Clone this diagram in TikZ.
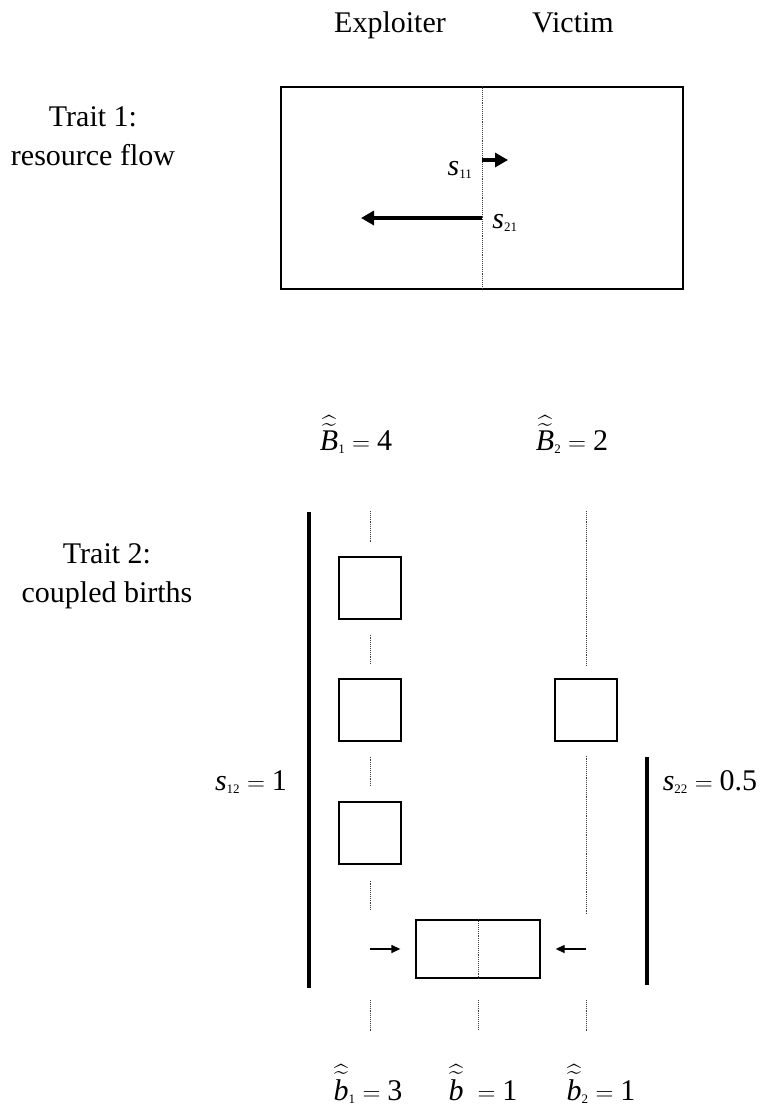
\documentclass[tikz,border=0pt]{standalone}
\usepackage{amsmath}
\usepackage{fontspec}
\setmainfont{Liberation Serif}
\usetikzlibrary{arrows.meta}
\newcommand{\lowidx}[1]{\mbox{\fontsize{13}{13}\selectfont #1}}

\begin{document}
\begin{tikzpicture}[x=1pt,y=-1pt,
		font=\fontsize{30}{39}\selectfont,
		every node/.style={inner sep=0pt},
		cell/.style={draw,line width=1.3pt,minimum size=62pt},
		guide/.style={densely dotted,line width=0.9pt,black!75},
		bar/.style={line width=4.5pt},
		flowarrow/.style={line width=4pt,-{Triangle[length=13pt,width=14pt]}},
		pusharrow/.style={line width=1.3pt,-{Triangle[length=9pt,width=8pt]}}]
		\useasboundingbox (0,0) rectangle (760,1111);
		% headings
		\node[anchor=base] (expl) at (390,32) {Exploiter};
		\node[anchor=base] (vict) at (573,32) {Victim};
		\node[align=center] (trait1) at (93,136) {Trait 1:\\resource flow};
		\node[align=center] (trait2) at (107,576) {Trait 2:\\coupled births};
		% trait 1: resource flow
		\node[draw,line width=1.3pt,minimum width=402pt,minimum height=202pt] (flow) at (482,188) {};
		\draw[guide] (flow.north) -- (flow.south);
		\coordinate (f11) at (482,160);
		\coordinate (f11end) at (508,160);
		\coordinate (f21) at (482,218);
		\coordinate (f21end) at (361,218);
		\draw[flowarrow] (f11) -- (f11end);
		\draw[flowarrow] (f21) -- (f21end);
		\node[anchor=base] (s11) at (460,175) {$\textit{s}_{\lowidx{11}}$};
		\node[anchor=base] (s21) at (505,228) {$\textit{s}_{\lowidx{21}}$};
		% trait 2: coupled births
		\node[anchor=base] (B1) at (356,450) {$\widehat{\widetilde{\textit{B}}}_{\lowidx{1}} = \text{4}$};
		\node[anchor=base] (B2) at (572,450) {$\widehat{\widetilde{\textit{B}}}_{\lowidx{2}} = \text{2}$};
		\node[cell] (e1) at (370,588) {};
		\node[cell] (e2) at (370,710) {};
		\node[cell] (e3) at (370,833) {};
		\node[cell] (v1) at (586,710) {};
		\node[draw,line width=1.3pt,minimum width=124pt,minimum height=58pt] (pair) at (478,949) {};
		\draw[guide] (pair.north) -- (pair.south);
		\coordinate (etop) at (370,511);
		\coordinate (vtop) at (586,511);
		\coordinate (ebot) at (370,911);
		\coordinate (vbot) at (586,915);
		\coordinate (epush) at (370,949);
		\coordinate (vpush) at (586,949);
		\draw[guide,shorten >=14pt] (etop) -- (e1);
		\draw[guide,shorten <=15pt,shorten >=15pt] (e1) -- (e2);
		\draw[guide,shorten <=15pt,shorten >=15pt] (e2) -- (e3);
		\draw[guide,shorten <=16pt] (e3) -- (ebot);
		\draw[guide,shorten >=13pt] (vtop) -- (v1);
		\draw[guide,shorten <=14pt] (v1) -- (vbot);
		\draw[pusharrow,shorten >=15pt] (epush) -- (pair);
		\draw[pusharrow,shorten >=15pt] (vpush) -- (pair);
		% bars
		\coordinate (bar12top) at (309,512);
		\coordinate (bar12bot) at (309,988);
		\coordinate (bar22top) at (647,757);
		\coordinate (bar22bot) at (647,985);
		\draw[bar] (bar12top) -- (bar12bot);
		\draw[bar] (bar22top) -- (bar22bot);
		\node[anchor=base] (s12) at (251,790) {$\textit{s}_{\lowidx{12}} = \text{1}$};
		\node[anchor=base] (s22) at (710,790) {$\textit{s}_{\lowidx{22}} = \text{0.5}$};
		% bottom
		\coordinate (elow) at (370,1000);
		\coordinate (elowend) at (370,1031);
		\coordinate (plow) at (478,1000);
		\coordinate (plowend) at (478,1029);
		\coordinate (vlow) at (586,1000);
		\coordinate (vlowend) at (586,1031);
		\draw[guide] (elow) -- (elowend);
		\draw[guide] (plow) -- (plowend);
		\draw[guide] (vlow) -- (vlowend);
		\node[anchor=base] (b1) at (368,1100) {$\widehat{\widetilde{\textit{b}}}_{\lowidx{1}} = \text{3}$};
		\node[anchor=base] (b0) at (483,1100) {$\widehat{\widetilde{\textit{b}}}_{\phantom{\lowidx{1}}} = \text{1}$};
		\node[anchor=base] (b2) at (601,1100) {$\widehat{\widetilde{\textit{b}}}_{\lowidx{2}} = \text{1}$};
\end{tikzpicture}
\end{document}
